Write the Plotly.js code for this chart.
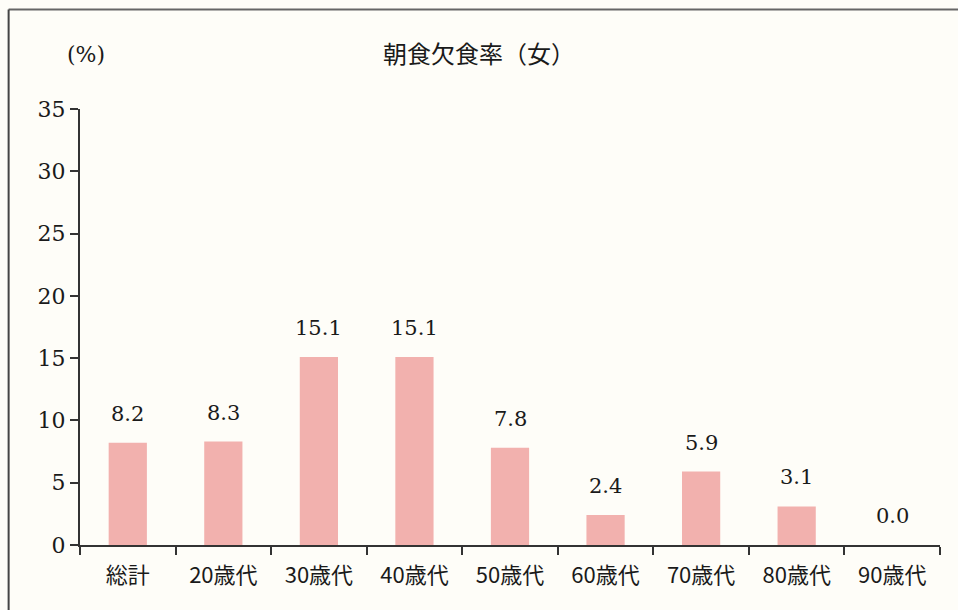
<!DOCTYPE html>
<html>
<head>
<meta charset="utf-8">
<script src="https://cdn.plot.ly/plotly-3.0.1.min.js"></script>
<style>html,body{margin:0;padding:0;background:#fefdf8;}#chart{width:958px;height:610px;}</style>
</head>
<body>
<div id="chart"></div>
<script>
const categories = ["総計", "20歳代", "30歳代", "40歳代", "50歳代", "60歳代", "70歳代", "80歳代", "90歳代"];
const values = [8.2, 8.3, 15.1, 15.1, 7.8, 2.4, 5.9, 3.1, 0.0];
const valueLabels = ["8.2", "8.3", "15.1", "15.1", "7.8", "2.4", "5.9", "3.1", "0.0"];
const yTicks = [0, 5, 10, 15, 20, 25, 30, 35];

const serif = "DejaVu Serif, Liberation Serif, serif";
const cjk = "Noto Sans CJK JP, sans-serif";

const trace = {
  type: "bar",
  x: categories,
  y: values,
  width: 0.4,
  marker: {color: "#f2b1ae", line: {width: 0}},
  hoverinfo: "none"
};

const annotations = categories.map((c, i) => ({
  x: c, y: values[i], xref: "x", yref: "y",
  text: valueLabels[i], showarrow: false,
  yanchor: "middle", yshift: 29,
  font: {family: serif, size: 21, color: "#1a1a1a"}
}));
annotations.push({
  xref: "paper", yref: "paper", x: 0.007, y: 1.125, xanchor: "center", yanchor: "middle",
  text: "(%)", showarrow: false, font: {family: serif, size: 22, color: "#1a1a1a"}
});

const layout = {
  width: 958, height: 610,
  margin: {l: 80, r: 18, t: 109, b: 65},
  paper_bgcolor: "#fefdf8",
  plot_bgcolor: "rgba(0,0,0,0)",
  showlegend: false,
  title: {text: "朝食欠食率（女）", x: 0.5, xanchor: "center", y: 0.91, yanchor: "middle",
          font: {family: cjk, size: 24, color: "#1a1a1a"}},
  xaxis: {
    type: "category", range: [-0.5, 8.5],
    showline: true, linecolor: "#333", linewidth: 2,
    ticks: "outside", tickson: "boundaries", ticklen: 8, tickcolor: "#333", tickwidth: 2,
    showgrid: false, zeroline: false, ticklabelstandoff: 10,
    tickfont: {family: cjk, size: 22, color: "#1a1a1a"}
  },
  yaxis: {
    range: [0, 35], tickvals: yTicks,
    showline: true, linecolor: "#333", linewidth: 2,
    ticks: "outside", ticklen: 8, tickcolor: "#333", tickwidth: 2,
    showgrid: false, zeroline: false,
    tickfont: {family: serif, size: 22, color: "#1a1a1a"}
  },
  annotations: annotations,
  shapes: [
    {type: "line", xref: "paper", yref: "paper", x0: -0.083, x1: 1.03, y0: 1.228, y1: 1.228, line: {color: "#666", width: 2}},
    {type: "line", xref: "paper", yref: "paper", x0: -0.083, x1: -0.083, y0: 1.228, y1: -0.15, line: {color: "#444", width: 2}}
  ]
};

Plotly.newPlot("chart", [trace], layout, {displayModeBar: false, staticPlot: true});
</script>
</body>
</html>
